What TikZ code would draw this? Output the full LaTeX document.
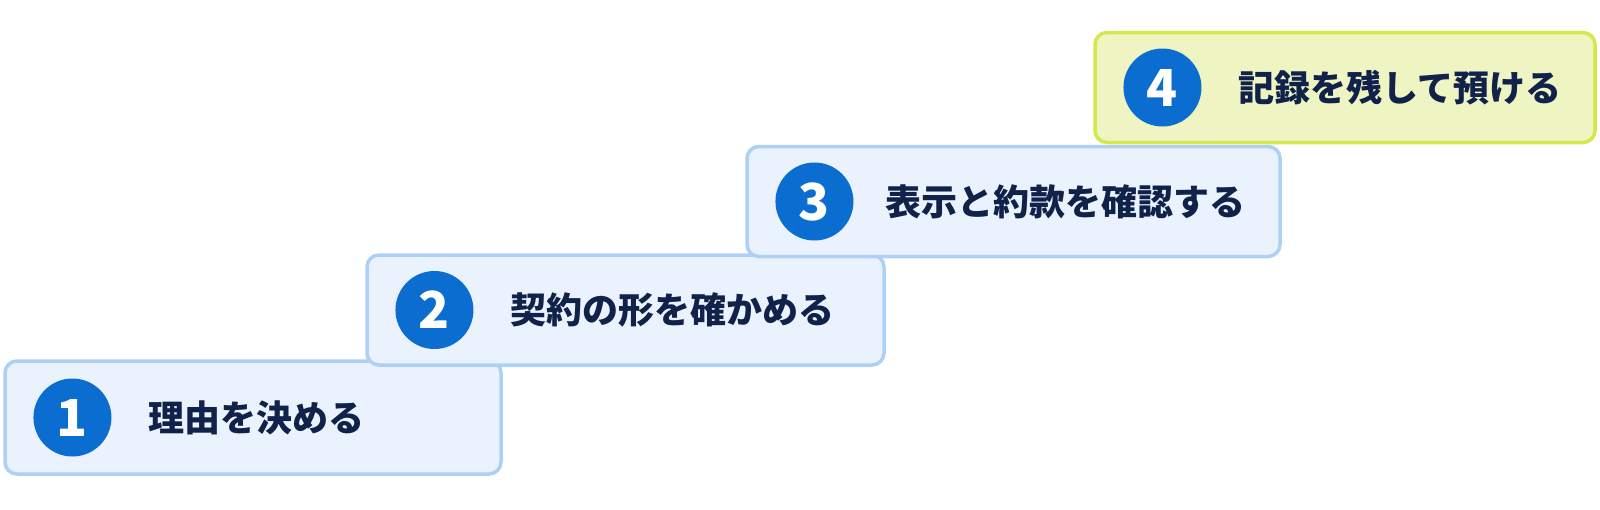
\documentclass[tikz,border=0pt]{standalone}
\usepackage{fontspec}
\setmainfont{Noto Sans CJK JP}
\usepackage{tikz}
\usetikzlibrary{positioning,calc}
\definecolor{boxfill}{HTML}{EAF3FD}
\definecolor{boxline}{HTML}{ADD1F6}
\definecolor{lastfill}{HTML}{EEF5C2}
\definecolor{lastline}{HTML}{D3E84C}
\definecolor{numblue}{HTML}{0B6DCF}
\definecolor{navy}{HTML}{10214A}
\begin{document}
\begin{tikzpicture}[x=1pt,y=-1pt,
  stepbox/.style={draw=boxline,fill=boxfill,line width=3.5pt,rounded corners=12pt,inner sep=0pt,minimum height=110pt},
  lastbox/.style={stepbox,draw=lastline,fill=lastfill},
  num/.style={circle,fill=numblue,text=white,minimum size=78pt,inner sep=0pt,font=\fontsize{51}{51}\selectfont\bfseries},
  steptext/.style={text=navy,inner sep=0pt,font=\fontsize{36}{40}\selectfont\bfseries}]
  \useasboundingbox (0,0) rectangle (1600,509);
  % Step 1
  \node[stepbox,minimum width=496pt,minimum height=113pt] (box1) at (253,417.5) {};
  \node[num,right=30pt of box1.west] (num1) {1};
  \node[steptext,right=145pt of box1.west] (text1) {理由を決める};
  % Step 2
  \node[stepbox,minimum width=517pt] (box2) at (625.5,310) {};
  \node[num,right=30pt of box2.west] (num2) {2};
  \node[steptext,right=145pt of box2.west] (text2) {契約の形を確かめる};
  % Step 3
  \node[stepbox,minimum width=533pt] (box3) at (1013.5,201.5) {};
  \node[num,right=30pt of box3.west] (num3) {3};
  \node[steptext,right=140pt of box3.west] (text3) {表示と約款を確認する};
  % Step 4
  \node[lastbox,minimum width=500pt] (box4) at (1345,87.5) {};
  \node[num,right=30pt of box4.west] (num4) {4};
  \node[steptext,right=145pt of box4.west] (text4) {記録を残して預ける};
\end{tikzpicture}
\end{document}
